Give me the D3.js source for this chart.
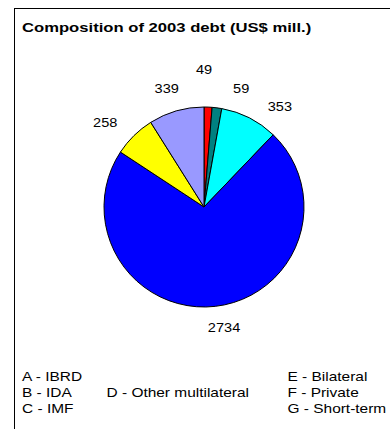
<!DOCTYPE html>
<html><head><meta charset="utf-8">
<script src="https://cdn.jsdelivr.net/npm/d3@7"></script>
<style>
html,body{margin:0;padding:0;background:#fff;}
svg{display:block;font-family:Arial,"Liberation Sans",sans-serif;}
</style></head>
<body>
<svg id="chart" width="390" height="429"></svg>
<script>
// Data (slice order clockwise from 12 o'clock)
const sliceLabels = ["49", "59", "353", "2734", "258", "339"];
const sliceValues = [49, 59, 353, 2734, 258, 339];
const sliceColors = ["#FF0000", "#008080", "#00FFFF", "#0000FF", "#FFFF00", "#9999FF"];
// label placement tweaks (degrees offset from slice middle, label radius)
const labelAngleShift = [-2.3, 10, 10, -3, -5, -1.4];
const labelRadius = [138, 124, 126, 122, 130, 124];
const legendCol1 = ["A - IBRD", "B - IDA", "C - IMF"];
const legendCol2 = ["", "D - Other multilateral", ""];
const legendCol3 = ["E - Bilateral", "F - Private", "G - Short-term"];
const title = "Composition of 2003 debt (US$ mill.)";

const svg = d3.select("#chart");
svg.append("rect").attr("x", 14.5).attr("y", 8.5).attr("width", 400).attr("height", 430)
  .attr("fill", "#fff").attr("stroke", "#000").attr("stroke-width", 1);

svg.append("text").attr("transform", "translate(22,32) scale(1.28,1)")
  .attr("font-size", 13).attr("font-weight", "bold").attr("fill", "#000").text(title);

const cx = 204, cy = 207, R = 100;
const pie = d3.pie().sort(null).value(d => d)(sliceValues);
const arc = d3.arc().innerRadius(0).outerRadius(R);
const g = svg.append("g").attr("transform", `translate(${cx},${cy})`);
g.selectAll("path").data(pie).join("path")
  .attr("d", arc).attr("fill", (d, i) => sliceColors[i])
  .attr("stroke", "#000").attr("stroke-width", 1).attr("stroke-linejoin", "round");

const midA = (d, i) => (d.startAngle + d.endAngle) / 2 + labelAngleShift[i] * Math.PI / 180;
g.selectAll("text.lbl").data(pie).join("text").attr("class", "lbl")
  .attr("transform", (d, i) =>
    `translate(${Math.sin(midA(d, i)) * labelRadius[i]},${-Math.cos(midA(d, i)) * labelRadius[i]}) scale(1.12,1)`)
  .attr("dy", "0.35em").attr("text-anchor", "middle").attr("font-size", 13).attr("fill", "#000")
  .text((d, i) => sliceLabels[i]);

const legendY = d3.scalePoint().domain([0, 1, 2]).range([376.5, 408.5]);
const cols = [[legendCol1, 22], [legendCol2, 106.5], [legendCol3, 287.5]];
cols.forEach(([arr, x]) => {
  svg.append("g").selectAll("text").data(arr).join("text")
    .attr("transform", (d, i) => `translate(${x},${legendY(i)}) scale(1.19,1)`)
    .attr("dy", "0.35em").attr("font-size", 13).attr("fill", "#000").text(d => d);
});
</script>
</body></html>
